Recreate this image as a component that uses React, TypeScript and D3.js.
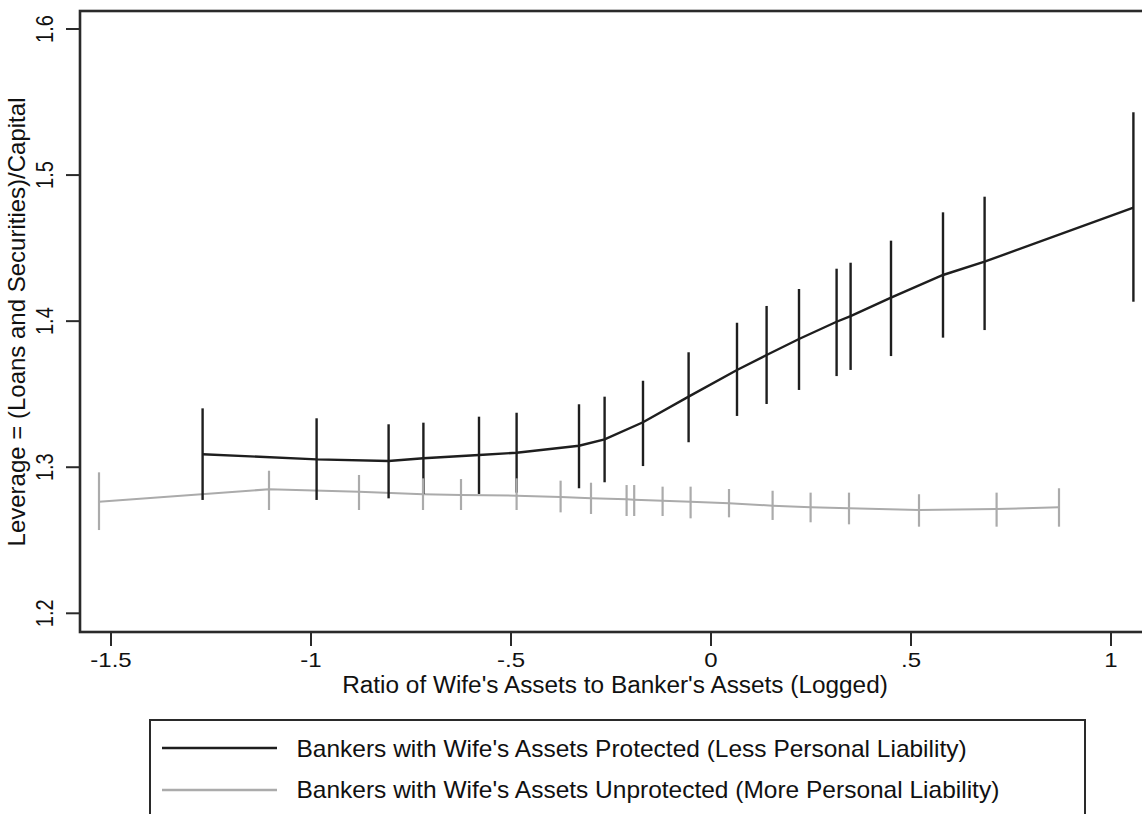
import React from "react";
import * as d3 from "d3";

// Protected (black) series: x, estimate, upper CI, lower CI
const protX = [-1.271, -0.986, -0.806, -0.719, -0.58, -0.486, -0.33, -0.266, -0.17, -0.056, 0.065, 0.139, 0.22, 0.314, 0.349, 0.45, 0.58, 0.684, 1.056];
const protY = [1.3089, 1.3054, 1.3043, 1.3061, 1.3084, 1.3099, 1.3147, 1.3191, 1.3308, 1.3483, 1.3666, 1.3768, 1.3878, 1.3996, 1.4035, 1.4161, 1.4316, 1.4407, 1.4777];
const protHi = [1.3403, 1.3335, 1.3294, 1.3305, 1.3346, 1.3373, 1.3431, 1.3483, 1.3592, 1.3787, 1.3989, 1.4104, 1.422, 1.4359, 1.44, 1.4551, 1.4745, 1.4852, 1.543];
const protLo = [1.2776, 1.2776, 1.2787, 1.2817, 1.2817, 1.2826, 1.2856, 1.2897, 1.3008, 1.3171, 1.3351, 1.3433, 1.3529, 1.3624, 1.3666, 1.3761, 1.3887, 1.3939, 1.4133];

// Unprotected (gray) series
const unprX = [-1.53, -1.105, -0.88, -0.72, -0.625, -0.486, -0.376, -0.3, -0.211, -0.192, -0.121, -0.051, 0.045, 0.154, 0.249, 0.345, 0.52, 0.714, 0.87];
const unprY = [1.2764, 1.2849, 1.2832, 1.2815, 1.281, 1.2805, 1.2796, 1.2787, 1.278, 1.2778, 1.2771, 1.2764, 1.2753, 1.2737, 1.2726, 1.2719, 1.2707, 1.2714, 1.2726];
const unprHi = [1.2965, 1.2976, 1.2947, 1.2924, 1.2919, 1.2924, 1.2908, 1.2894, 1.2878, 1.2878, 1.2867, 1.2867, 1.2851, 1.2839, 1.2826, 1.2826, 1.2815, 1.2826, 1.2856];
const unprLo = [1.257, 1.2707, 1.2707, 1.2707, 1.2707, 1.2707, 1.2691, 1.268, 1.2666, 1.2666, 1.2666, 1.265, 1.2657, 1.2639, 1.2623, 1.2609, 1.2593, 1.2593, 1.2593];

const xTicks = [-1.5, -1, -0.5, 0, 0.5, 1];
const xTickLabels = ["-1.5", "-1", "-.5", "0", ".5", "1"];
const yTicks = [1.2, 1.3, 1.4, 1.5, 1.6];
const yTickLabels = ["1.2", "1.3", "1.4", "1.5", "1.6"];

const xTitle = "Ratio of Wife's Assets to Banker's Assets (Logged)";
const yTitle = "Leverage = (Loans and Securities)/Capital";
const legendLabels = [
  "Bankers with Wife's Assets Protected (Less Personal Liability)",
  "Bankers with Wife's Assets Unprotected (More Personal Liability)",
];

const W = 1142;
const H = 814;
const left = 80;
const top = 11;
const bottom = 632;
const right = 1152;

const BLACK = "#1e1e1e";
const GRAY = "#ababab";
const FONT = "'Liberation Sans', Arial, Helvetica, sans-serif";

export default function App() {
  const x = d3.scaleLinear().domain([-1.5, 1]).range([111, 1111]);
  const y = d3.scaleLinear().domain([1.2, 1.6]).range([613.3, 29]);

  const line = d3
    .line<[number, number]>()
    .x((d) => x(d[0]))
    .y((d) => y(d[1]));

  const protPts: [number, number][] = protX.map((v, i) => [v, protY[i]]);
  const unprPts: [number, number][] = unprX.map((v, i) => [v, unprY[i]]);

  return (
    <svg
      width={W}
      height={H}
      style={{ position: "absolute", left: 0, top: 0, background: "#fff", display: "block" }}
      fontFamily={FONT}
    >
      <rect x={0} y={0} width={W} height={H} fill="#fff" />
      {/* frame */}
      <rect x={left} y={top} width={right - left} height={bottom - top} fill="none" stroke="#2a2a2a" strokeWidth={2.6} />

      {/* y ticks */}
      {yTicks.map((t, i) => (
        <g key={"yt" + i}>
          <line x1={66} x2={left} y1={y(t)} y2={y(t)} stroke="#2a2a2a" strokeWidth={2} />
          <text
            transform={`translate(53,${y(t)}) scale(1.2,1) rotate(-90)`}
            textAnchor="middle"
            fontSize={20}
            fill="#111"
          >
            {yTickLabels[i]}
          </text>
        </g>
      ))}

      {/* x ticks */}
      {xTicks.map((t, i) => (
        <g key={"xt" + i}>
          <line x1={x(t)} x2={x(t)} y1={bottom} y2={646} stroke="#2a2a2a" strokeWidth={2} />
          <text
            transform={`translate(${x(t)},667) scale(1.2,1)`}
            textAnchor="middle"
            fontSize={20}
            fill="#111"
          >
            {xTickLabels[i]}
          </text>
        </g>
      ))}

      {/* axis titles */}
      <text transform="translate(615,693) scale(1.06,1)" textAnchor="middle" fontSize={23} fill="#111">
        {xTitle}
      </text>
      <text transform="translate(25,322) rotate(-90)" textAnchor="middle" fontSize={24} fill="#111">
        {yTitle}
      </text>

      {/* series */}
      <path d={line(unprPts) || ""} fill="none" stroke={GRAY} strokeWidth={2} />
      <path d={line(protPts) || ""} fill="none" stroke={BLACK} strokeWidth={2.4} />
      {protX.map((v, i) => (
        <line key={"pb" + i} x1={x(v)} x2={x(v)} y1={y(protHi[i])} y2={y(protLo[i])} stroke={BLACK} strokeWidth={2.4} />
      ))}
      {unprX.map((v, i) => (
        <line key={"ub" + i} x1={x(v)} x2={x(v)} y1={y(unprHi[i])} y2={y(unprLo[i])} stroke={GRAY} strokeWidth={2.2} />
      ))}

      {/* legend */}
      <rect x={150} y={720} width={935} height={120} fill="#fff" stroke="#2a2a2a" strokeWidth={2} />
      <line x1={162} x2={277} y1={748} y2={748} stroke={BLACK} strokeWidth={2.4} />
      <line x1={162} x2={277} y1={790} y2={790} stroke={GRAY} strokeWidth={2.4} />
      <text transform="translate(296.5,757) scale(1.065,1)" fontSize={23} fill="#111">
        {legendLabels[0]}
      </text>
      <text transform="translate(296.5,798) scale(1.065,1)" fontSize={23} fill="#111">
        {legendLabels[1]}
      </text>
    </svg>
  );
}
